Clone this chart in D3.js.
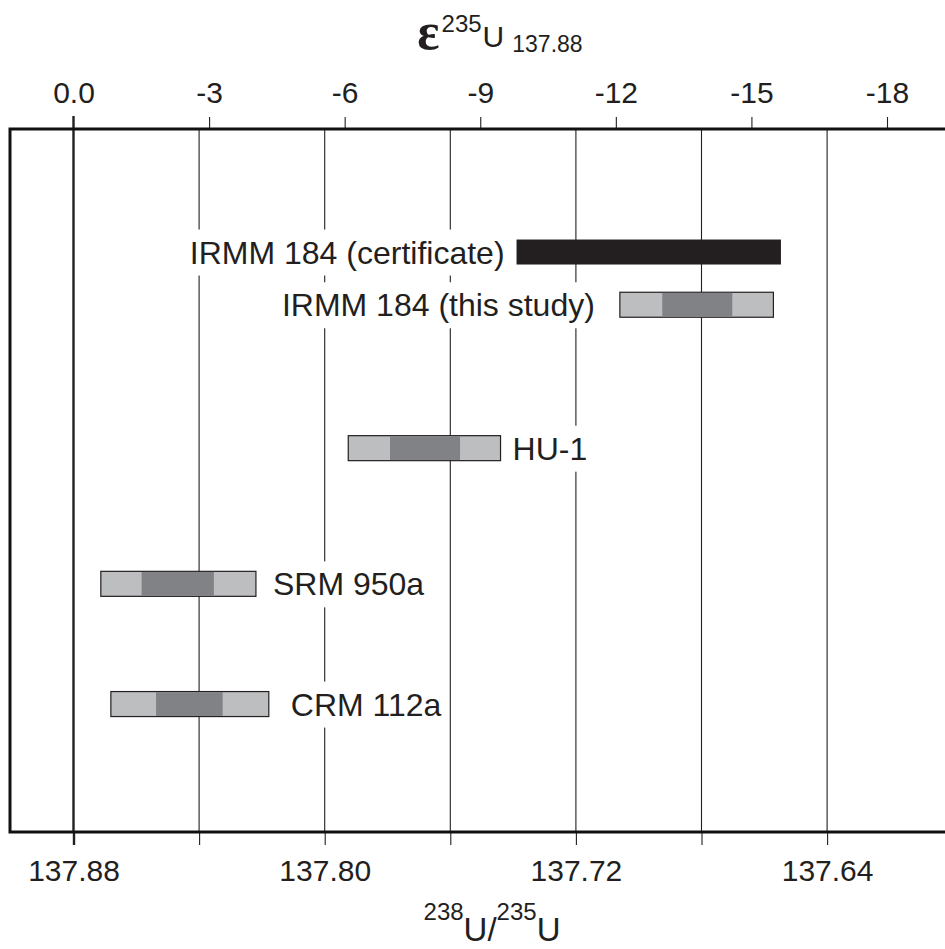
<!DOCTYPE html>
<html>
<head>
<meta charset="utf-8">
<script src="https://cdn.jsdelivr.net/npm/d3@7"></script>
<style>
  body { margin: 0; background: #fff; }
  svg { display: block; }
</style>
</head>
<body>
<div id="chart"></div>
<script>
// samples, top to bottom
const samples = ['IRMM 184 (certificate)', 'IRMM 184 (this study)', 'HU-1', 'SRM 950a', 'CRM 112a'];
// 238U/235U ranges (outer = light bar, inner = dark bar)
const outerLo = [137.6547, 137.6571, 137.7440, 137.8219, 137.8178];
const outerHi = [137.7389, 137.7060, 137.7925, 137.8713, 137.8681];
const innerLo = [null, 137.6702, 137.7569, 137.8353, 137.8325];
const innerHi = [null, 137.6925, 137.7792, 137.8583, 137.8537];
// vertical slot of each row (0 = top of frame, 100 = bottom)
const rowPos = [17.5, 25, 45.4, 64.7, 81.8];
const labelSide = ['left', 'left', 'right', 'right', 'right'];
const labelGap = [12, 25, 12, 17, 22];

const ratioTicks = [137.88, 137.84, 137.80, 137.76, 137.72, 137.68, 137.64];
const ratioLabels = ['137.88', '', '137.80', '', '137.72', '', '137.64'];
const epsTicks = [0, -3, -6, -9, -12, -15, -18];
const epsLabels = ['0.0', '-3', '-6', '-9', '-12', '-15', '-18'];

const width = 945, height = 949;
const frame = { left: 10, right: 960, top: 129, bottom: 832 };
const font = '"Liberation Sans", Arial, Helvetica, sans-serif';
const ink = '#231f20', light = '#bcbec0', dark = '#808285';
const barH = 25;

const svg = d3.select('#chart').append('svg')
  .attr('width', width).attr('height', height)
  .style('font-family', font);

const x = d3.scaleLinear().domain([137.88, 137.64]).range([73.5, 827.1]);
const eps = d3.scaleLinear().domain([0, -18]).range([73.5, 887]);
const y = d3.scaleLinear().domain([0, 100]).range([frame.top, frame.bottom]);

// grid lines
svg.append('g').selectAll('line')
  .data(ratioTicks).enter().append('line')
  .attr('x1', d => x(d)).attr('x2', d => x(d))
  .attr('y1', (d, i) => i === 0 ? frame.top - 13 : frame.top)
  .attr('y2', frame.bottom)
  .attr('stroke', ink)
  .attr('stroke-width', (d, i) => i === 0 ? 2.4 : 1.1);

// bottom axis
const gx = svg.append('g').attr('transform', `translate(0,${frame.bottom})`)
  .call(d3.axisBottom(x).tickValues(ratioTicks).tickSize(13).tickPadding(15)
    .tickFormat((d, i) => ratioLabels[i]));
gx.select('.domain').remove();
gx.selectAll('.tick line').attr('stroke', ink).attr('stroke-width', (d, i) => i === 0 ? 2.4 : 1.1);
gx.selectAll('.tick text').attr('font-family', font).attr('font-size', 30).attr('fill', ink);

// top axis
const ge = svg.append('g').attr('transform', `translate(0,${frame.top})`)
  .call(d3.axisTop(eps).tickValues(epsTicks).tickSize(12).tickPadding(14)
    .tickFormat((d, i) => epsLabels[i]));
ge.select('.domain').remove();
ge.selectAll('.tick line').attr('stroke', ink).attr('stroke-width', (d, i) => i === 0 ? 0 : 1.1);
ge.selectAll('.tick text').attr('font-family', font).attr('font-size', 30).attr('fill', ink);

// frame (open to the right)
svg.append('path')
  .attr('d', `M${frame.right},${frame.top}H${frame.left}V${frame.bottom}H${frame.right}`)
  .attr('fill', 'none').attr('stroke', '#111').attr('stroke-width', 3);

// labels with white backing so the grid breaks around them
const rows = svg.append('g').selectAll('g')
  .data(samples).enter().append('g');

rows.each(function(name, i) {
  const g = d3.select(this);
  const cy = y(rowPos[i]);
  const left = labelSide[i] === 'left';
  const tx = left ? x(outerHi[i]) - labelGap[i] : x(outerLo[i]) + labelGap[i];
  const bg = g.append('rect').attr('fill', '#fff');
  const t = g.append('text')
    .attr('x', tx).attr('y', cy).attr('dy', '0.36em')
    .attr('text-anchor', left ? 'end' : 'start')
    .attr('font-size', 32).attr('fill', ink)
    .text(name);
  const b = t.node().getBBox();
  bg.attr('x', b.x - 4).attr('y', b.y - 5).attr('width', b.width + 8).attr('height', b.height + 10);

  // outer bar
  g.append('rect')
    .attr('x', x(outerHi[i])).attr('y', cy - barH / 2)
    .attr('width', x(outerLo[i]) - x(outerHi[i])).attr('height', barH)
    .attr('fill', innerLo[i] == null ? ink : light)
    .attr('stroke', ink).attr('stroke-width', innerLo[i] == null ? 0 : 1.2);
  if (innerLo[i] != null) {
    g.append('rect')
      .attr('x', x(innerHi[i])).attr('y', cy - barH / 2 + 0.6)
      .attr('width', x(innerLo[i]) - x(innerHi[i])).attr('height', barH - 1.2)
      .attr('fill', dark);
  }
});

// axis titles
const topTitle = svg.append('text')
  .attr('x', 500).attr('y', 49).attr('text-anchor', 'middle').attr('fill', ink);
topTitle.append('tspan').attr('font-family', '"Liberation Serif", "DejaVu Serif", serif')
  .attr('font-size', 52).attr('font-weight', 'bold').text('ε');
topTitle.append('tspan').attr('font-size', 24).attr('dy', -17).attr('dx', 2).text('235');
topTitle.append('tspan').attr('font-size', 30).attr('dy', 15).attr('dx', 1).text('U');
topTitle.append('tspan').attr('font-size', 23).attr('dy', 5).attr('dx', 8).text('137.88');

const botTitle = svg.append('text')
  .attr('x', 492).attr('y', 941).attr('text-anchor', 'middle').attr('fill', ink);
botTitle.append('tspan').attr('font-size', 24).attr('dy', -21).text('238');
botTitle.append('tspan').attr('font-size', 33).attr('dy', 21).text('U/');
botTitle.append('tspan').attr('font-size', 24).attr('dy', -21).text('235');
botTitle.append('tspan').attr('font-size', 33).attr('dy', 21).text('U');
</script>
</body>
</html>
